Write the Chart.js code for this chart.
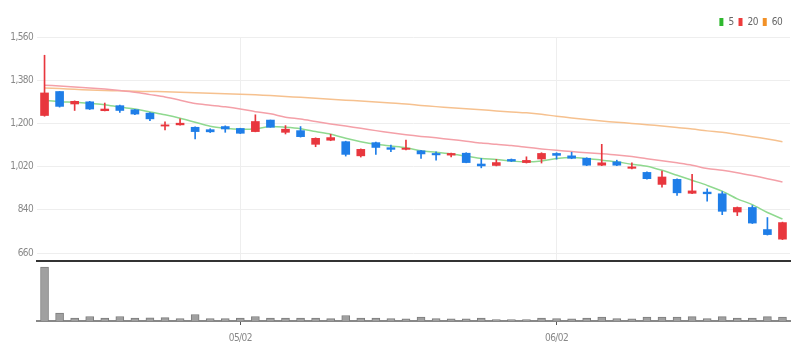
<!DOCTYPE html>
<html>
<head>
<meta charset="utf-8">
<script src="https://cdn.jsdelivr.net/npm/chart.js@4.4.1/dist/chart.umd.min.js"></script>
<style>
  html, body { margin: 0; padding: 0; background: #fff; }
  #wrap { position: relative; width: 805px; height: 361px; }
  #priceBox { position: absolute; left: 0; top: 0; width: 805px; height: 271px; }
  #volBox { position: absolute; left: 0; top: 261px; width: 805px; height: 100px; }
</style>
</head>
<body>
<div id="wrap">
  <div id="priceBox"><canvas id="priceChart"></canvas></div>
  <div id="volBox"><canvas id="volChart"></canvas></div>
</div>
<script>
// dados
const dates = [
  "04/12", "04/13", "04/14", "04/17", "04/18", "04/19", "04/20", "04/21", "04/24", "04/25",
  "04/26", "04/27", "04/28", "05/02", "05/03", "05/04", "05/08", "05/09", "05/10", "05/11",
  "05/12", "05/15", "05/16", "05/17", "05/18", "05/19", "05/22", "05/23", "05/24", "05/25",
  "05/26", "05/30", "05/31", "06/01", "06/02", "06/05", "06/07", "06/08", "06/09", "06/12",
  "06/13", "06/14", "06/15", "06/16", "06/19", "06/20", "06/21", "06/22", "06/23", "06/26"
];
const monthTicks = ["05/02", "06/02"];
const priceTicks = [660, 840, 1020, 1200, 1380, 1560];

const opens = [
  1233, 1333, 1281, 1290, 1253, 1274, 1257, 1243, 1189, 1194,
  1184, 1174, 1187, 1179, 1166, 1214, 1163, 1170, 1113, 1130,
  1124, 1065, 1120, 1099, 1092, 1086, 1075, 1068, 1076, 1031,
  1025, 1050, 1037, 1052, 1075, 1065, 1055, 1026, 1040, 1013,
  996, 946, 967, 909, 914, 907, 831, 850, 758, 718
];
const highs = [
  1484, 1333, 1294, 1292, 1285, 1276, 1259, 1245, 1207, 1219,
  1186, 1178, 1190, 1180, 1236, 1214, 1191, 1187, 1140, 1155,
  1126, 1094, 1122, 1110, 1131, 1088, 1082, 1077, 1078, 1054,
  1050, 1052, 1061, 1078, 1078, 1080, 1057, 1113, 1047, 1036,
  998, 1002, 969, 988, 928, 916, 852, 858, 808, 789
];
const lows = [
  1230, 1268, 1254, 1258, 1252, 1246, 1237, 1211, 1173, 1193,
  1135, 1162, 1163, 1158, 1165, 1184, 1156, 1143, 1103, 1128,
  1064, 1060, 1071, 1082, 1090, 1054, 1047, 1061, 1036, 1015,
  1023, 1041, 1035, 1035, 1051, 1053, 1024, 1024, 1024, 1011,
  968, 935, 900, 907, 876, 820, 816, 783, 735, 716
];
const closes = [
  1327, 1271, 1292, 1260, 1260, 1254, 1239, 1219, 1194, 1201,
  1166, 1165, 1177, 1159, 1208, 1184, 1176, 1145, 1138, 1141,
  1071, 1092, 1100, 1092, 1097, 1073, 1069, 1075, 1037, 1023,
  1037, 1043, 1046, 1075, 1067, 1055, 1026, 1036, 1026, 1019,
  970, 977, 911, 919, 907, 834, 850, 785, 737, 787
];
const volumes = [
  5400, 800, 300, 450, 300, 450, 300, 320, 330, 250,
  650, 250, 250, 300, 450, 300, 300, 300, 300, 230,
  550, 300, 300, 250, 220, 400, 250, 220, 220, 300,
  150, 150, 150, 300, 250, 220, 300, 400, 250, 220,
  400, 400, 400, 430, 250, 430, 280, 280, 430, 400
];
const ma5 = [
  1296, 1290, 1288, 1283, 1278, 1268, 1260, 1248, 1236, 1222,
  1205, 1188, 1180, 1176, 1178, 1187, 1184, 1178, 1166, 1155,
  1138, 1124, 1113, 1106, 1099, 1086, 1080, 1073, 1064, 1054,
  1050, 1043, 1040, 1044, 1054, 1058, 1054, 1047, 1040, 1030,
  1022, 1005, 984, 963, 942, 918, 886, 862, 829, 802
];
const ma20 = [
  1359, 1356, 1352, 1348, 1343, 1337, 1330, 1320, 1310, 1297,
  1283, 1276, 1269, 1260, 1249, 1240, 1226, 1218, 1208, 1198,
  1189, 1180, 1170, 1161, 1153, 1146, 1140, 1133, 1126, 1118,
  1113, 1108, 1101, 1094, 1088, 1083, 1078, 1074, 1069, 1062,
  1053, 1045, 1036, 1026, 1012, 1005, 995, 983, 970, 956
];
const ma60 = [
  1348, 1345, 1342, 1339, 1337, 1336, 1334, 1333, 1332, 1330,
  1328, 1326, 1324, 1322, 1319, 1316, 1312, 1309, 1305, 1301,
  1297, 1293, 1289, 1285, 1281, 1275, 1270, 1265, 1261, 1257,
  1252, 1248, 1244, 1238, 1230, 1223, 1216, 1210, 1205, 1200,
  1195, 1189, 1183, 1177, 1169, 1163, 1154, 1145, 1135, 1124
];

const corAlta = "#e8373e";
const corBaixa = "#1f7ee8";
const fonte = "'Liberation Sans Narrow', 'DejaVu Sans Condensed', sans-serif";

const coresVela = closes.map(function (c, i) {
    return c >= opens[i] ? corAlta : corBaixa;
});
const pavios = lows.map(function (l, i) {
    return [l, highs[i]];
});
const corpos = opens.map(function (o, i) {
    return [o, closes[i]];
});

function manterTicksDoMes(scale) {
    scale.ticks = scale.ticks.filter(function (t) {
        return monthTicks.includes(dates[t.value]);
    });
}

// texto mais estreito, como no original
const textoEstreito = {
    id: "textoEstreito",
    beforeInit: function (chart) { chart.ctx.letterSpacing = "-0.6px"; },
    beforeDraw: function (chart) { chart.ctx.letterSpacing = "-0.6px"; }
};

Chart.defaults.font.family = fonte;
Chart.defaults.animation = false;

/* PREÇO */
new Chart(document.getElementById("priceChart"), {
    type: "bar",
    plugins: [textoEstreito],
    data: {
        labels: dates,
        datasets: [
            { type: "line", label: "5", data: ma5, borderColor: "#8fd98f", backgroundColor: "#2eb82e", borderWidth: 1.5, pointRadius: 0, tension: 0.3, order: 1 },
            { type: "line", label: "20", data: ma20, borderColor: "#f4a0a8", backgroundColor: "#ee3b3b", borderWidth: 1.5, pointRadius: 0, tension: 0.3, order: 1 },
            { type: "line", label: "60", data: ma60, borderColor: "#f6c18f", backgroundColor: "#f29127", borderWidth: 1.5, pointRadius: 0, tension: 0.3, order: 1 },
            { label: "pavio", data: pavios, backgroundColor: coresVela, barThickness: 1, grouped: false, order: 0 },
            { label: "corpo", data: corpos, backgroundColor: coresVela, barThickness: 8, grouped: false, order: 0 }
        ]
    },
    options: {
        responsive: true,
        maintainAspectRatio: false,
        layout: { padding: { top: 12, right: 15, bottom: 2, left: 0 } },
        plugins: {
            tooltip: { enabled: false },
            legend: {
                position: "top",
                align: "end",
                labels: {
                    boxWidth: 4,
                    boxHeight: 8,
                    padding: 5,
                    color: "#666",
                    font: { size: 10 },
                    generateLabels: function (chart) {
                        const itens = Chart.defaults.plugins.legend.labels.generateLabels(chart);
                        return itens.filter(function (item) {
                            return item.datasetIndex < 3;
                        }).map(function (item) {
                            item.lineWidth = 0;
                            return item;
                        });
                    }
                }
            }
        },
        scales: {
            x: {
                afterBuildTicks: manterTicksDoMes,
                afterFit: function (scale) { scale.height = 0; },
                ticks: { display: false },
                grid: { color: "#eeeeee", offset: false, drawTicks: false },
                border: { display: true, color: "#333333", width: 2 }
            },
            y: {
                min: 627,
                max: 1560,
                afterBuildTicks: function (scale) {
                    scale.ticks = priceTicks.map(function (v) { return { value: v }; });
                },
                afterFit: function (scale) { scale.width = 37; },
                ticks: {
                    color: "#888",
                    padding: 4,
                    font: { size: 10 },
                    callback: function (v) { return v.toLocaleString("en-US"); }
                },
                grid: { color: "#eeeeee", drawTicks: false },
                border: { display: false }
            }
        }
    }
});

/* VOLUME */
new Chart(document.getElementById("volChart"), {
    type: "bar",
    plugins: [textoEstreito],
    data: {
        labels: dates,
        datasets: [{
            label: "volume",
            data: volumes,
            backgroundColor: "#a0a0a0",
            borderColor: "#7c7c7c",
            borderWidth: 1,
            barThickness: 8
        }]
    },
    options: {
        responsive: true,
        maintainAspectRatio: false,
        layout: { padding: { top: 1, right: 15, bottom: 15, left: 37 } },
        plugins: {
            tooltip: { enabled: false },
            legend: { display: false }
        },
        scales: {
            x: {
                afterBuildTicks: manterTicksDoMes,
                afterFit: function (scale) { scale.height = 25; },
                ticks: { color: "#888", padding: 7, font: { size: 10 }, autoSkip: false, maxRotation: 0 },
                grid: { drawOnChartArea: false, drawTicks: true, tickLength: 4, tickColor: "#555", offset: false },
                border: { display: true, color: "#888888", width: 2 }
            },
            y: {
                display: false,
                min: 0,
                max: 5900
            }
        }
    }
});
</script>
</body>
</html>
